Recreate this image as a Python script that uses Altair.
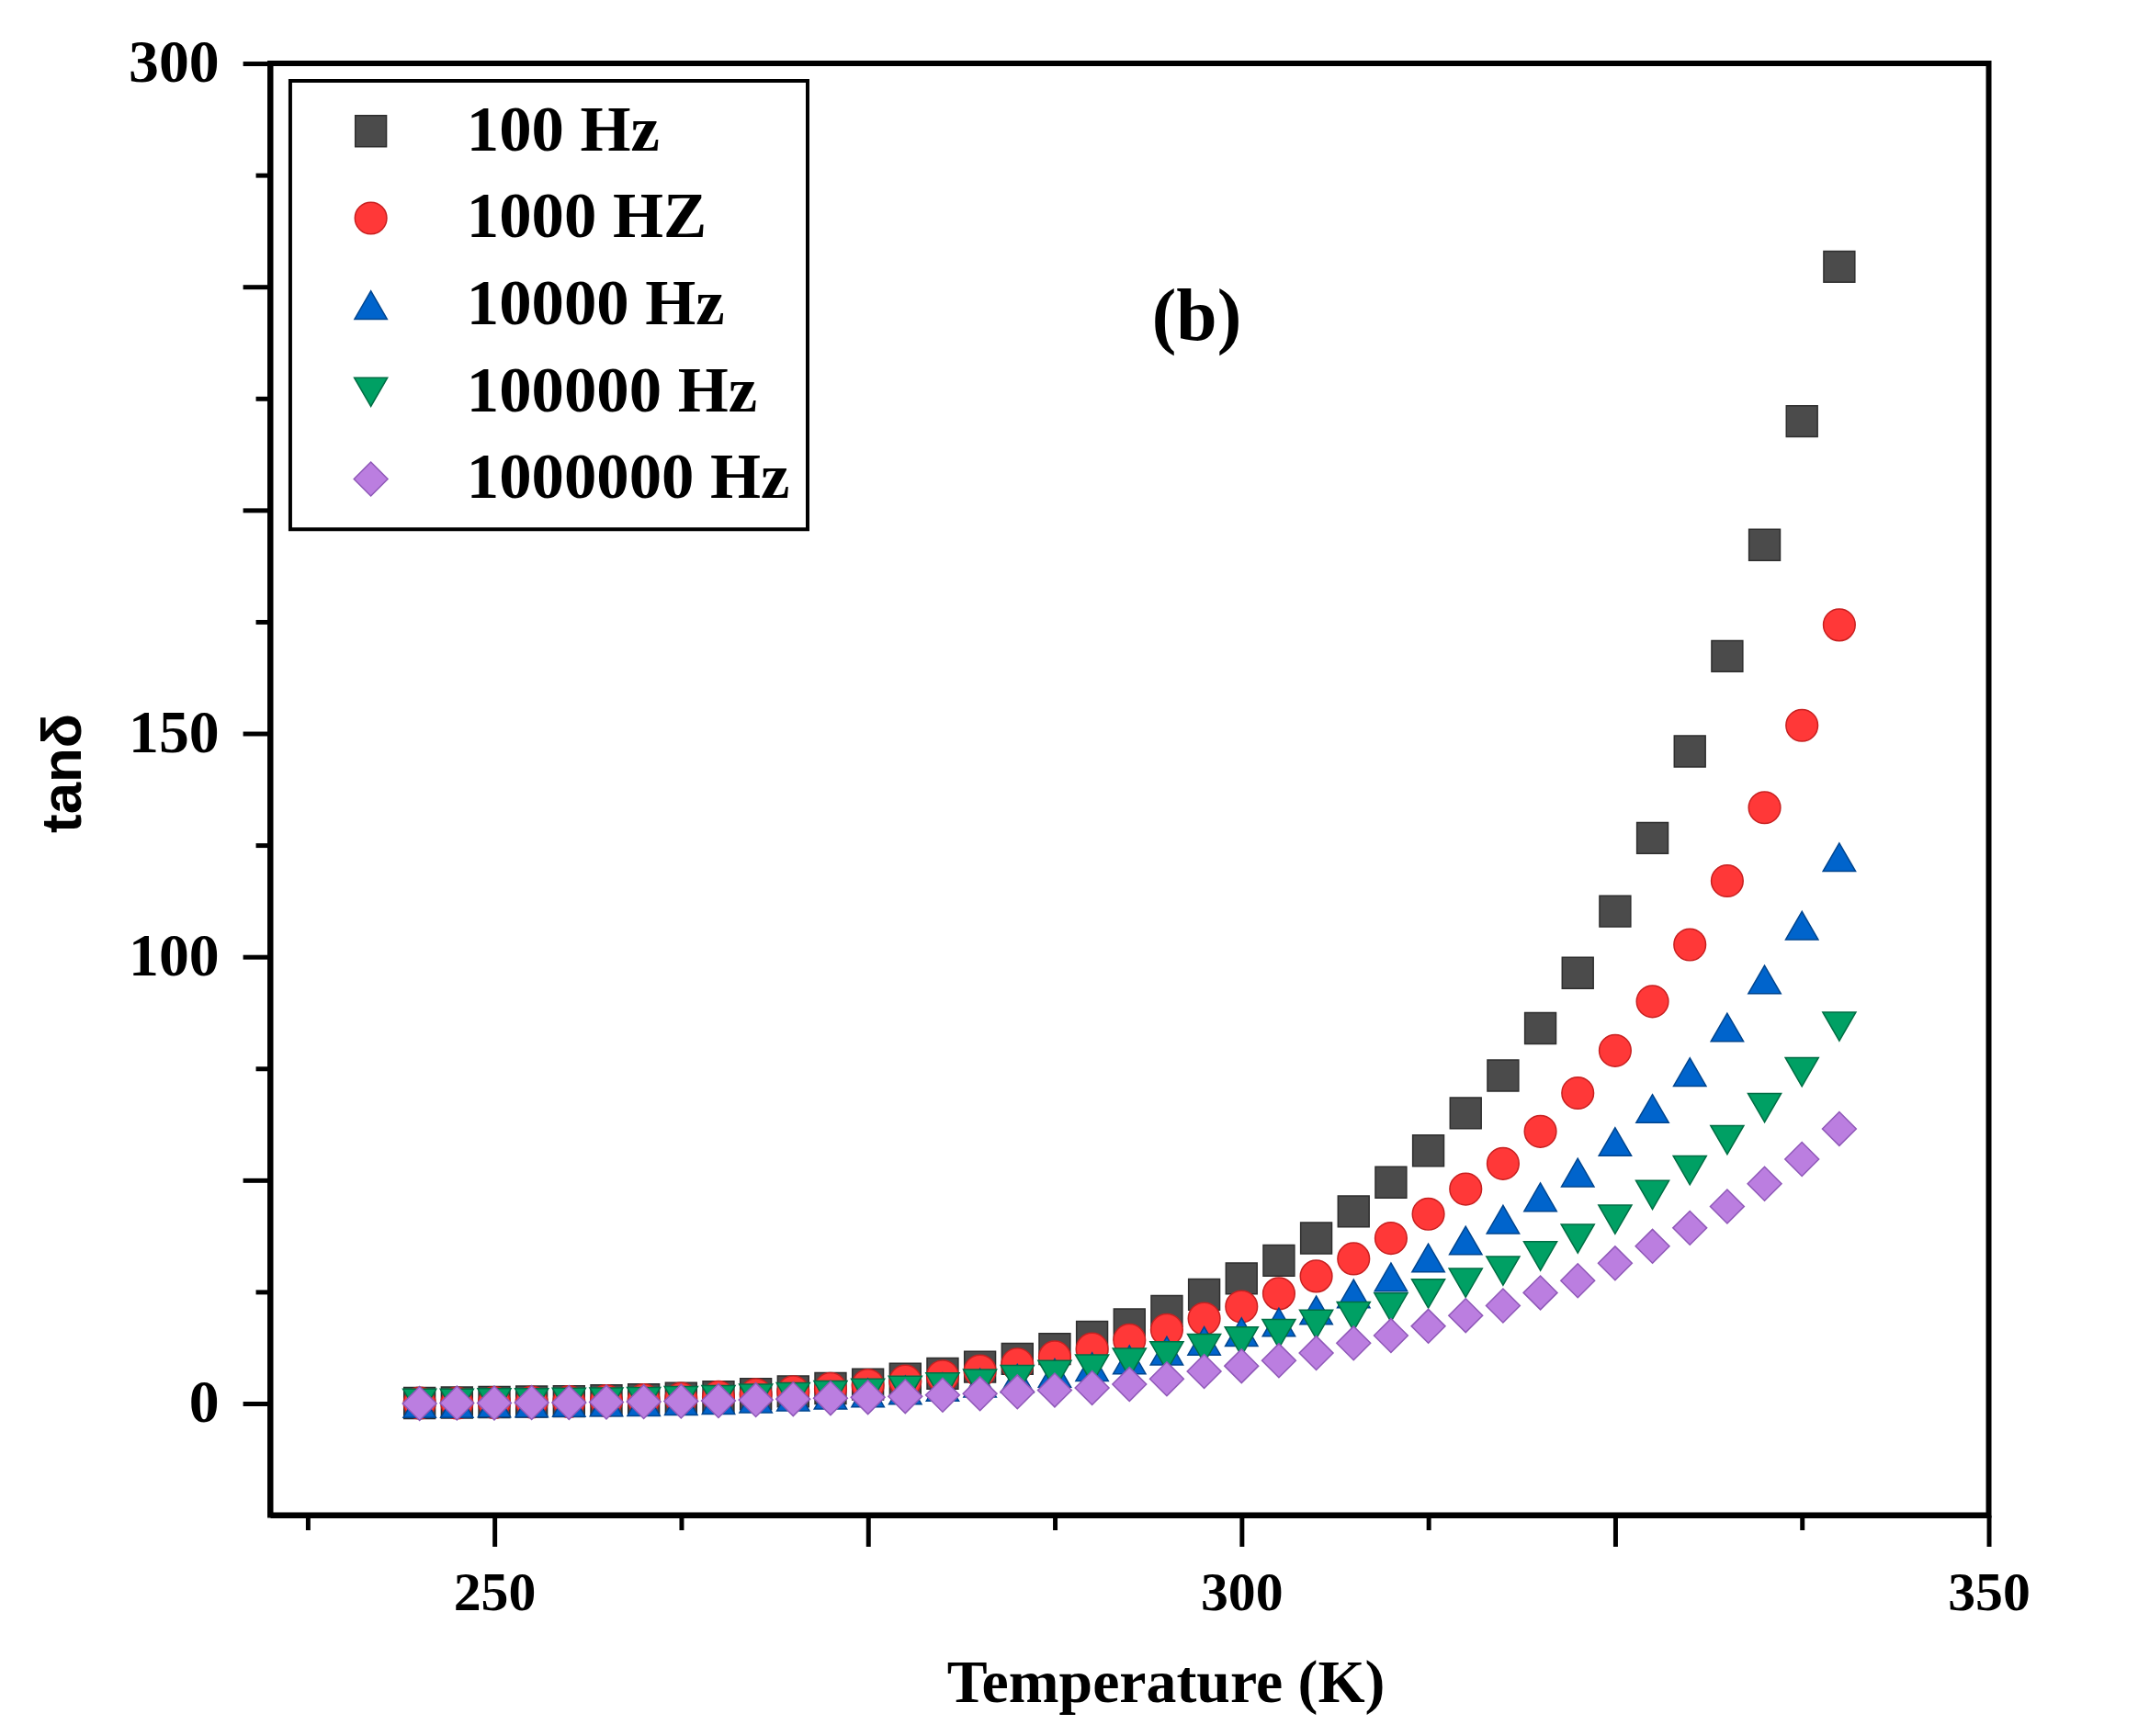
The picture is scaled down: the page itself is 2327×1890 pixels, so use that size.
import altair as alt
import pandas as pd

# 数据
temps = [245, 247.5, 250, 252.5, 255, 257.5, 260, 262.5, 265, 267.5,
         270, 272.5, 275, 277.5, 280, 282.5, 285, 287.5, 290, 292.5,
         295, 297.5, 300, 302.5, 305, 307.5, 310, 312.5, 315, 317.5,
         320, 322.5, 325, 327.5, 330, 332.5, 335, 337.5, 340]

hz100 = [0.1, 0.2, 0.3, 0.4, 0.5, 0.7, 0.9, 1.2, 1.5, 2.1,
         2.7, 3.4, 4.3, 5.5, 6.7, 8.2, 10.0, 12.2, 14.9, 17.7,
         20.7, 24.4, 28.0, 32.0, 37.0, 43.0, 49.5, 56.6, 65.0, 73.4,
         84.0, 96.4, 110.2, 126.6, 146.0, 167.3, 192.2, 219.9, 254.5]

hz1000 = [0.1, 0.1, 0.2, 0.3, 0.4, 0.6, 0.8, 1.1, 1.5, 2.0,
          2.6, 3.3, 4.1, 5.0, 6.1, 7.3, 8.8, 10.4, 12.2, 14.2,
          16.5, 19.0, 21.7, 24.6, 28.5, 32.4, 37.0, 42.4, 48.0, 53.7,
          60.9, 69.5, 79.0, 90.0, 102.7, 117.0, 133.4, 151.8, 174.3]

hz10000 = [0.0, 0.0, 0.1, 0.1, 0.2, 0.3, 0.4, 0.6, 0.8, 1.1,
           1.5, 1.9, 2.4, 3.0, 3.7, 4.6, 5.6, 6.8, 8.2, 9.8,
           11.8, 14.0, 16.0, 18.2, 20.9, 24.6, 28.3, 32.6, 36.5, 41.2,
           46.2, 51.7, 58.6, 66.0, 74.2, 84.2, 94.9, 107.0, 122.3]

hz100000 = [0.0, 0.0, 0.1, 0.1, 0.2, 0.3, 0.4, 0.6, 0.8, 1.1,
            1.4, 1.8, 2.3, 2.9, 3.6, 4.4, 5.3, 6.4, 7.7, 9.1,
            10.6, 12.3, 13.9, 15.6, 17.7, 19.5, 21.5, 24.6, 27.0, 29.7,
            33.0, 36.9, 41.2, 46.7, 52.2, 59.0, 66.2, 74.2, 84.4]

hz1000000 = [0.0, 0.1, 0.1, 0.2, 0.2, 0.3, 0.4, 0.5, 0.6, 0.8,
             1.0, 1.2, 1.4, 1.6, 1.9, 2.2, 2.6, 3.0, 3.5, 4.3,
             5.5, 7.2, 8.4, 9.6, 11.3, 13.5, 15.2, 17.3, 19.7, 21.9,
             24.8, 27.5, 31.4, 35.2, 39.3, 44.1, 49.2, 54.7, 61.5]

freq_labels = ['100 Hz', '1000 HZ', '10000 Hz', '100000 Hz', '1000000 Hz']
fills = ['#4b4b4b', '#ff3838', '#0064cc', '#00a064', '#bb7ee0']
edges = ['#2e2e2e', '#c82020', '#00458f', '#006e44', '#8f58b8']
shapes = ['square', 'circle', 'triangle-up', 'triangle-down', 'diamond']
sizes = [1156, 1369, 1936, 1936, 2116]

series = [hz100, hz1000, hz10000, hz100000, hz1000000]
rows = []
for name, vals in zip(freq_labels, series):
    for t, v in zip(temps, vals):
        rows.append({'T': t, 'tan': v, 'freq': name})
df = pd.DataFrame(rows)

x_ticks = [237.5, 250, 262.5, 275, 287.5, 300, 312.5, 325, 337.5, 350]
y_ticks = [0, 25, 50, 75, 100, 125, 150, 175, 200, 225, 250, 275, 300]

serif = 'Liberation Serif'

x_axis = alt.Axis(
    values=x_ticks, format='d', title='Temperature (K)',
    labelExpr="datum.value % 50 === 0 ? datum.label : ''",
    tickSize={"condition": {"test": "datum.value % 25 === 0", "value": 34}, "value": 16},
    labelFont=serif, labelFontSize=60, labelFontWeight='bold', labelColor='black',
    labelPadding=22, labelBaseline='top', labelFlush=False, labelOverlap=False,
    titleFont=serif, titleFontSize=66, titleFontWeight='bold', titleColor='black',
    titleX=978, titleY=204, titleBaseline='alphabetic', titleAlign='center',
)

y_axis = alt.Axis(
    values=y_ticks, format='d', title='tanδ',
    labelExpr="(datum.value == 0 || datum.value == 100 || datum.value == 150 || datum.value == 300) ? datum.label : ''",
    tickSize={"condition": {"test": "datum.value % 50 === 0", "value": 30}, "value": 16},
    labelFont=serif, labelFontSize=66, labelFontWeight='bold', labelColor='black',
    labelPadding=26, labelFlush=False, labelOverlap=False,
    titleFont='Liberation Sans', titleFontSize=62, titleFontWeight='bold', titleColor='black',
    titleAngle=270, titleX=-207, titleY=775, titleBaseline='alphabetic', titleAlign='center',
)

# 散点
points = alt.Chart(df).mark_point(filled=True, opacity=1, strokeWidth=1.5).encode(
    x=alt.X('T:Q', scale=alt.Scale(domain=[235, 350], nice=False, zero=False), axis=x_axis),
    y=alt.Y('tan:Q', scale=alt.Scale(domain=[-25, 300], nice=False, zero=False), axis=y_axis),
    color=alt.Color('freq:N', sort=freq_labels,
                    scale=alt.Scale(domain=freq_labels, range=fills), title=None),
    stroke=alt.Stroke('freq:N', sort=freq_labels,
                      scale=alt.Scale(domain=freq_labels, range=edges), title=None),
    shape=alt.Shape('freq:N', sort=freq_labels,
                    scale=alt.Scale(domain=freq_labels, range=shapes), title=None),
    size=alt.Size('freq:N', sort=freq_labels,
                  scale=alt.Scale(domain=freq_labels, range=sizes), title=None),
)

# 标注
note = pd.DataFrame({'T': [297], 'tan': [243], 'txt': ['(b)']})
label = alt.Chart(note).mark_text(
    font=serif, fontSize=80, fontWeight='bold', color='black', baseline='middle'
).encode(x='T:Q', y='tan:Q', text='txt:N')

chart = alt.layer(points, label).properties(
    width=1877, height=1586,
    autosize=alt.AutoSizeParams(type='none'),
    padding={'left': 287, 'top': 58, 'right': 155, 'bottom': 238},
    background='white',
).configure_view(
    stroke='black', strokeWidth=6
).configure_axis(
    grid=False, domainColor='black', domainWidth=6,
    tickColor='black', tickWidth=5,
).configure_legend(
    orient='none', legendX=22, legendY=19,
    strokeColor='black', strokeWidth=4, padding=19.5,
    labelFont=serif, labelFontSize=71, labelFontWeight='bold', labelColor='black',
    symbolOffset=33, labelOffset=69, rowPadding=23, symbolStrokeWidth=1.5,
    labelLimit=0,
)

chart.save("out.html", embed_options={"renderer": "svg", "actions": False})
